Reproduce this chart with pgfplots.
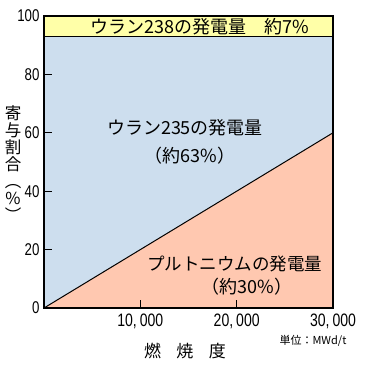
\documentclass[border=0pt]{standalone}
\usepackage{pgfplots}
\pgfplotsset{compat=1.18}
\usepackage{fontspec}
\setmainfont{Noto Sans CJK JP}
\newfontfamily\numfont[FakeStretch=0.78]{Liberation Sans}
\definecolor{bandY}{RGB}{255,255,168}
\definecolor{bandB}{RGB}{205,222,238}
\definecolor{bandP}{RGB}{255,200,176}
\begin{document}
\begin{tikzpicture}
\useasboundingbox (0,0) rectangle (369bp,376bp);
\begin{axis}[
  at={(44bp,68bp)}, anchor=south west,
  scale only axis, width=289bp, height=292bp,
  xmin=0, xmax=30000, ymin=0, ymax=100,
  axis on top,
  axis line style={line width=1.3pt},
  tick style={line width=1.1pt, black},
  tick align=inside, major tick length=8bp,
  xtick pos=bottom, ytick pos=left,
  xtick={10000,20000,30000},
  xticklabels={{10,\,000},{20,\,000},{30,\,000}},
  ytick={0,20,40,60,80,100},
  /pgf/number format/assume math mode=true,
  yticklabel style={font=\numfont\fontsize{17bp}{18bp}\selectfont, xshift=-1bp},
  xticklabel style={font=\numfont\fontsize{18bp}{20bp}\selectfont, yshift=-2bp},
  scaled x ticks=false,
]
\addplot[fill=bandY, draw=none] coordinates {(0,93) (30000,93) (30000,100) (0,100)} -- cycle;
\addplot[fill=bandB, draw=none] coordinates {(0,0) (30000,60) (30000,93) (0,93)} -- cycle;
\addplot[fill=bandP, draw=none] coordinates {(0,0) (30000,0) (30000,60)} -- cycle;
\addplot[black, line width=1.1pt] coordinates {(0,93) (30000,93)};
\addplot[black, line width=1pt] coordinates {(0,0) (30000,60)};
\node[font=\fontsize{18bp}{20bp}\selectfont] at (axis cs:16194,96.3) {ウラン238の発電量　約7\%};
\node[font=\fontsize{18bp}{20bp}\selectfont] at (axis cs:14637,61.6) {ウラン235の発電量};
\node[font=\fontsize{18bp}{20bp}\selectfont] at (axis cs:15156,52) {（約63\%）};
\node[font=\fontsize{17.5bp}{20bp}\selectfont] at (axis cs:19827,15.1) {プルトニウムの発電量};
\node[font=\fontsize{18bp}{20bp}\selectfont] at (axis cs:21072,7.2) {（約30\%）};
\end{axis}
\node[font=\fontsize{17bp}{20bp}\selectfont] at (185bp,25bp) {燃\hspace{0.9em}焼\hspace{0.9em}度};
\node[font=\fontsize{11bp}{13bp}\selectfont] at (313bp,35bp) {単位：MWd/t};
\node[font=\fontsize{16.5bp}{17bp}\selectfont, align=center, inner sep=0pt] at (13bp,212bp) {寄\\与\\割\\合\\︵\\\%\\︶};
\end{tikzpicture}
\end{document}
